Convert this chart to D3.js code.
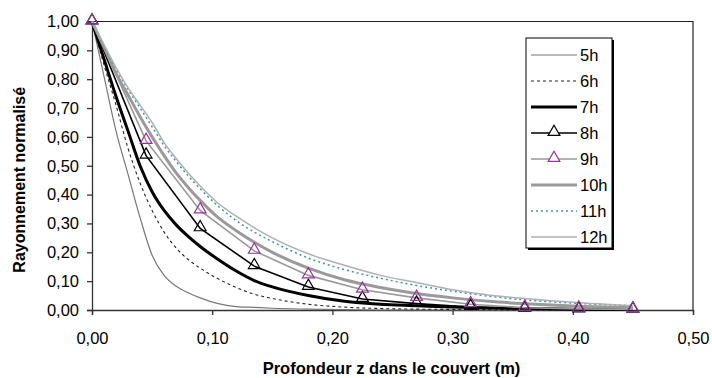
<!DOCTYPE html>
<html>
<head>
<meta charset="utf-8">
<script src="https://cdn.jsdelivr.net/npm/d3@7"></script>
<style>
  body { margin: 0; background: #fff; }
  text { font-family: "Liberation Sans", Arial, sans-serif; }
</style>
</head>
<body>
<div id="chart"></div>
<script>
// depth grid for the smooth curves (m)
const depthFine = [0, 0.01, 0.02, 0.03, 0.04, 0.05, 0.06, 0.07, 0.08, 0.09, 0.105, 0.12,
    0.135, 0.15, 0.18, 0.21, 0.24, 0.27, 0.30, 0.33, 0.36, 0.40, 0.45];
// depth of the marked series (m)
const depthMarked = [0, 0.045, 0.09, 0.135, 0.18, 0.225, 0.27, 0.315, 0.36, 0.405, 0.45];

const h5 = [1, 0.81, 0.62, 0.47, 0.32, 0.19, 0.12, 0.082, 0.06, 0.042, 0.022, 0.012,
    0.009, 0.006, 0.003, 0.001, 0, 0, 0, 0, 0, 0, 0];
const h6 = [1, 0.85, 0.71, 0.56, 0.44, 0.345, 0.27, 0.215, 0.175, 0.145, 0.108, 0.078,
    0.055, 0.04, 0.02, 0.01, 0.005, 0.003, 0.002, 0.001, 0, 0, 0];
const h7 = [1, 0.87, 0.74, 0.62, 0.50, 0.41, 0.345, 0.295, 0.255, 0.22, 0.175, 0.135,
    0.102, 0.08, 0.05, 0.03, 0.02, 0.015, 0.01, 0.007, 0.005, 0.003, 0.002];
const h8 = [1, 0.535, 0.283, 0.152, 0.08, 0.038, 0.022, 0.01, 0.004, 0.002, 0.001];
const h9 = [1, 0.586, 0.345, 0.205, 0.12, 0.07, 0.042, 0.02, 0.008, 0.004, 0.002];
const h10 = [1, 0.91, 0.82, 0.745, 0.67, 0.60, 0.535, 0.475, 0.425, 0.38, 0.32, 0.275,
    0.235, 0.2, 0.145, 0.105, 0.078, 0.057, 0.042, 0.03, 0.022, 0.014, 0.008];
const h11 = [1, 0.915, 0.835, 0.765, 0.70, 0.635, 0.57, 0.515, 0.465, 0.42, 0.36, 0.31,
    0.27, 0.237, 0.18, 0.14, 0.11, 0.085, 0.065, 0.048, 0.035, 0.024, 0.015];
const h12 = [1, 0.92, 0.84, 0.77, 0.71, 0.65, 0.58, 0.525, 0.475, 0.43, 0.37, 0.325,
    0.285, 0.25, 0.195, 0.155, 0.12, 0.095, 0.07, 0.052, 0.04, 0.027, 0.015];

const xTicks = [0, 0.1, 0.2, 0.3, 0.4, 0.5];
const yTicks = [0, 0.1, 0.2, 0.3, 0.4, 0.5, 0.6, 0.7, 0.8, 0.9, 1.0];

const series = [
    { name: "5h", z: depthFine, v: h5, color: "#777", width: 1.2, dash: null, marker: null },
    { name: "6h", z: depthFine, v: h6, color: "#222", width: 1.1, dash: "3,3", marker: null },
    { name: "7h", z: depthFine, v: h7, color: "#000", width: 3, dash: null, marker: null },
    { name: "8h", z: depthMarked, v: h8, color: "#000", width: 1.6, dash: null, marker: "#000" },
    { name: "9h", z: depthMarked, v: h9, color: "#999", width: 1.6, dash: null, marker: "#993399" },
    { name: "10h", z: depthFine, v: h10, color: "#9a9a9a", width: 3, dash: null, marker: null },
    { name: "11h", z: depthFine, v: h11, color: "#3a9a9a", width: 1.5, dash: "2,3", marker: null },
    { name: "12h", z: depthFine, v: h12, color: "#b0b0b0", width: 1.5, dash: null, marker: null }
];

const W = 712, H = 378;
const margin = { top: 21.5, right: 19, bottom: 68, left: 92 };
const width = W - margin.left - margin.right;
const height = H - margin.top - margin.bottom;

const svg = d3.select("#chart").append("svg")
    .attr("width", W)
    .attr("height", H);

const g = svg.append("g")
    .attr("transform", "translate(" + margin.left + "," + margin.top + ")");

const x = d3.scaleLinear().domain([0, 0.5]).range([0, width]);
const y = d3.scaleLinear().domain([0, 1]).range([height, 0]);
const fmt = d => d3.format(".2f")(d).replace(".", ",");

// frame (top and right)
g.append("path")
    .attr("d", "M0,0H" + width + "V" + height)
    .attr("fill", "none")
    .attr("stroke", "#222")
    .attr("stroke-width", 1.2);

const xAxis = g.append("g")
    .attr("transform", "translate(0," + height + ")")
    .call(d3.axisBottom(x).tickValues(xTicks).tickFormat(fmt).tickSize(5).tickPadding(17));
const yAxis = g.append("g")
    .call(d3.axisLeft(y).tickValues(yTicks).tickFormat(fmt).tickSize(5).tickPadding(8));

[xAxis, yAxis].forEach(a => {
    a.select(".domain").attr("stroke", "#333").attr("stroke-width", 1.3);
    a.selectAll(".tick line").attr("stroke", "#333").attr("stroke-width", 1.3);
    a.selectAll(".tick text")
        .attr("font-family", "Liberation Sans, Arial, sans-serif")
        .attr("font-size", 16.5)
        .attr("fill", "#000");
});

const line = d3.line()
    .x(d => x(d[0]))
    .y(d => y(d[1]));

const smooth = d3.line()
    .x(d => x(d[0]))
    .y(d => y(d[1]))
    .curve(d3.curveMonotoneX);

series.forEach(s => {
    const pts = s.z.map((z, i) => [z, s.v[i]]);
    g.append("path")
        .datum(pts)
        .attr("fill", "none")
        .attr("stroke", s.color)
        .attr("stroke-width", s.width)
        .attr("stroke-dasharray", s.dash)
        .attr("d", s.marker ? line : smooth);
});

const tri = d3.symbol().type(d3.symbolTriangle).size(60);

series.filter(s => s.marker).forEach(s => {
    g.selectAll(null)
        .data(s.z.map((z, i) => [z, s.v[i]]))
        .join("path")
        .attr("d", tri)
        .attr("transform", d => "translate(" + x(d[0]) + "," + (y(d[1]) - 1) + ")")
        .attr("fill", "none")
        .attr("stroke", s.marker)
        .attr("stroke-width", 1.2);
});

// axis titles
svg.append("text")
    .attr("x", margin.left + width / 2 - 1)
    .attr("y", 374)
    .attr("text-anchor", "middle")
    .attr("font-size", 16.5)
    .attr("font-weight", "bold")
    .text("Profondeur z dans le couvert (m)");

svg.append("text")
    .attr("transform", "translate(25," + (margin.top + height / 2 + 14) + ") rotate(-90)")
    .attr("text-anchor", "middle")
    .attr("font-size", 16)
    .attr("font-weight", "bold")
    .text("Rayonnement normalisé");

// legend
const legend = svg.append("g").attr("transform", "translate(526,38)");
legend.append("rect")
    .attr("x", 2).attr("y", 2)
    .attr("width", 86).attr("height", 210)
    .attr("fill", "#000");
legend.append("rect")
    .attr("width", 86).attr("height", 210)
    .attr("fill", "#fff")
    .attr("stroke", "#000")
    .attr("stroke-width", 1);

const rowY = d3.scaleLinear().domain([0, 7]).range([17, 199]);
series.forEach((s, i) => {
    const yy = rowY(i);
    legend.append("line")
        .attr("x1", 5).attr("x2", 51)
        .attr("y1", yy).attr("y2", yy)
        .attr("stroke", s.color)
        .attr("stroke-width", s.width)
        .attr("stroke-dasharray", s.dash);
    if (s.marker) {
        legend.append("path")
            .attr("d", tri)
            .attr("transform", "translate(28," + (yy - 1) + ")")
            .attr("fill", "#fff")
            .attr("stroke", s.marker)
            .attr("stroke-width", 1.2);
    }
    legend.append("text")
        .attr("x", 54)
        .attr("y", yy)
        .attr("dy", "0.35em")
        .attr("font-size", 16.5)
        .text(s.name);
});
</script>
</body>
</html>
